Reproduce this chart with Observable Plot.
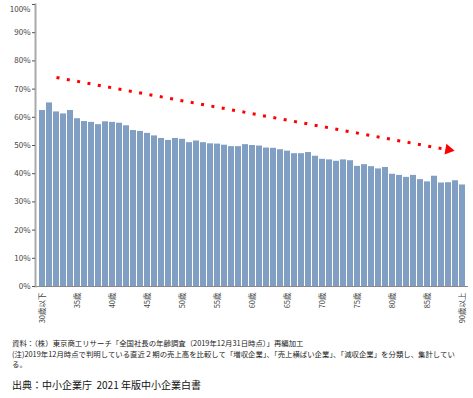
<!DOCTYPE html>
<html>
<head>
<meta charset="utf-8">
<script src="https://cdn.jsdelivr.net/npm/d3@7"></script>
<script src="https://cdn.jsdelivr.net/npm/@observablehq/plot@0.6"></script>
<style>
  body { margin: 0; background: #fff; font-family: 'Noto Sans CJK JP', sans-serif; width: 473px; }
  #chart svg { display: block; }
  #notes { padding-left: 12px; margin-top: 8px; }
  .note { font-size: 7.4px; line-height: 10.5px; height: 10.5px; color: #222; white-space: nowrap; }
  .src { font-size: 10px; line-height: 12px; color: #111; padding-left: 12px; margin-top: 9px; white-space: nowrap; }
</style>
</head>
<body>
<div id="chart"></div>
<div id="notes">
  <div class="note">資料：（株）東京商工リサーチ「全国社長の年齢調査（2019年12月31日時点）」再編加工</div>
  <div class="note">(注)2019年12月時点で判明している直近２期の売上高を比較して「増収企業」、「売上横ばい企業」、「減収企業」を分類し、集計してい</div>
  <div class="note">る。</div>
</div>
<div class="src">出典：中小企業庁&nbsp; 2021 年版中小企業白書</div>
<script>
const categories = ["30歳以下","31歳","32歳","33歳","34歳","35歳","36歳","37歳","38歳","39歳",
  "40歳","41歳","42歳","43歳","44歳","45歳","46歳","47歳","48歳","49歳",
  "50歳","51歳","52歳","53歳","54歳","55歳","56歳","57歳","58歳","59歳",
  "60歳","61歳","62歳","63歳","64歳","65歳","66歳","67歳","68歳","69歳",
  "70歳","71歳","72歳","73歳","74歳","75歳","76歳","77歳","78歳","79歳",
  "80歳","81歳","82歳","83歳","84歳","85歳","86歳","87歳","88歳","89歳","90歳以上"];
const values = [62.4,65.1,61.9,61.2,62.4,59.5,58.5,58.2,57.4,58.4,
  58.2,57.9,57.0,55.3,55.0,54.3,53.4,52.5,51.8,52.5,
  52.2,51.0,51.6,51.0,50.6,50.5,50.1,49.6,49.6,50.3,
  50.0,49.8,49.1,49.0,48.5,48.0,47.1,47.1,47.5,46.2,
  45.1,44.9,44.4,44.9,44.6,42.6,43.2,42.5,41.7,42.2,
  39.8,39.4,38.7,39.4,37.9,37.1,39.1,36.7,36.8,37.5,36.0];
const xTickLabels = ["30歳以下","35歳","40歳","45歳","50歳","55歳","60歳","65歳","70歳","75歳","80歳","85歳","90歳以上"];
const yTicks = [0,10,20,30,40,50,60,70,80,90,100];
const yTopTick = [100];
const trendLine = [{x1: "32歳", y1: 74.1, x2: "87歳", y2: 48.9}];
const trendHead = [{x: "88歳", y: 48.5}];

const data = categories.map((c, i) => ({age: c, value: values[i]}));
const fmt = d => d + "%";

const chart = Plot.plot({
  width: 473,
  height: 330,
  marginTop: 4,
  marginBottom: 44,
  marginLeft: 35,
  marginRight: 5,
  style: {fontFamily: "'Noto Sans CJK JP', sans-serif", fontSize: "7.5px", color: "#444", background: "#fff"},
  x: {domain: categories, padding: 0.18, label: null},
  y: {domain: [0, 100], label: null},
  marks: [
    Plot.barY(data, {x: "age", y: "value", fill: "#819fc3"}),
    Plot.ruleY([0], {stroke: "#888", strokeWidth: 1}),
    Plot.frame({anchor: "left", stroke: "#aaa", strokeWidth: 2}),
    Plot.axisY({ticks: yTicks, tickFormat: d => d === 100 ? "" : fmt(d), tickSize: 3, tickPadding: 2, stroke: "#555", fontSize: 8, label: null}),
    Plot.text(yTopTick, {y: d => d, text: fmt, frameAnchor: "left", textAnchor: "end", dx: -5, dy: 5, fontSize: 8, fill: "#444"}),
    Plot.axisX({ticks: xTickLabels, tickRotate: -90, tickSize: 0, tickPadding: 6, fontSize: 7.5, label: null}),
    Plot.link(trendLine, {x1: "x1", y1: "y1", x2: "x2", y2: "y2", stroke: "#ff0000", strokeWidth: 3, strokeDasharray: "3 7.5"}),
    Plot.dot(trendHead, {x: "x", y: "y", symbol: "triangle", r: 4, fill: "#ff0000", stroke: "none", rotate: 100.4})
  ]
});
document.getElementById("chart").appendChild(chart);
</script>
</body>
</html>
